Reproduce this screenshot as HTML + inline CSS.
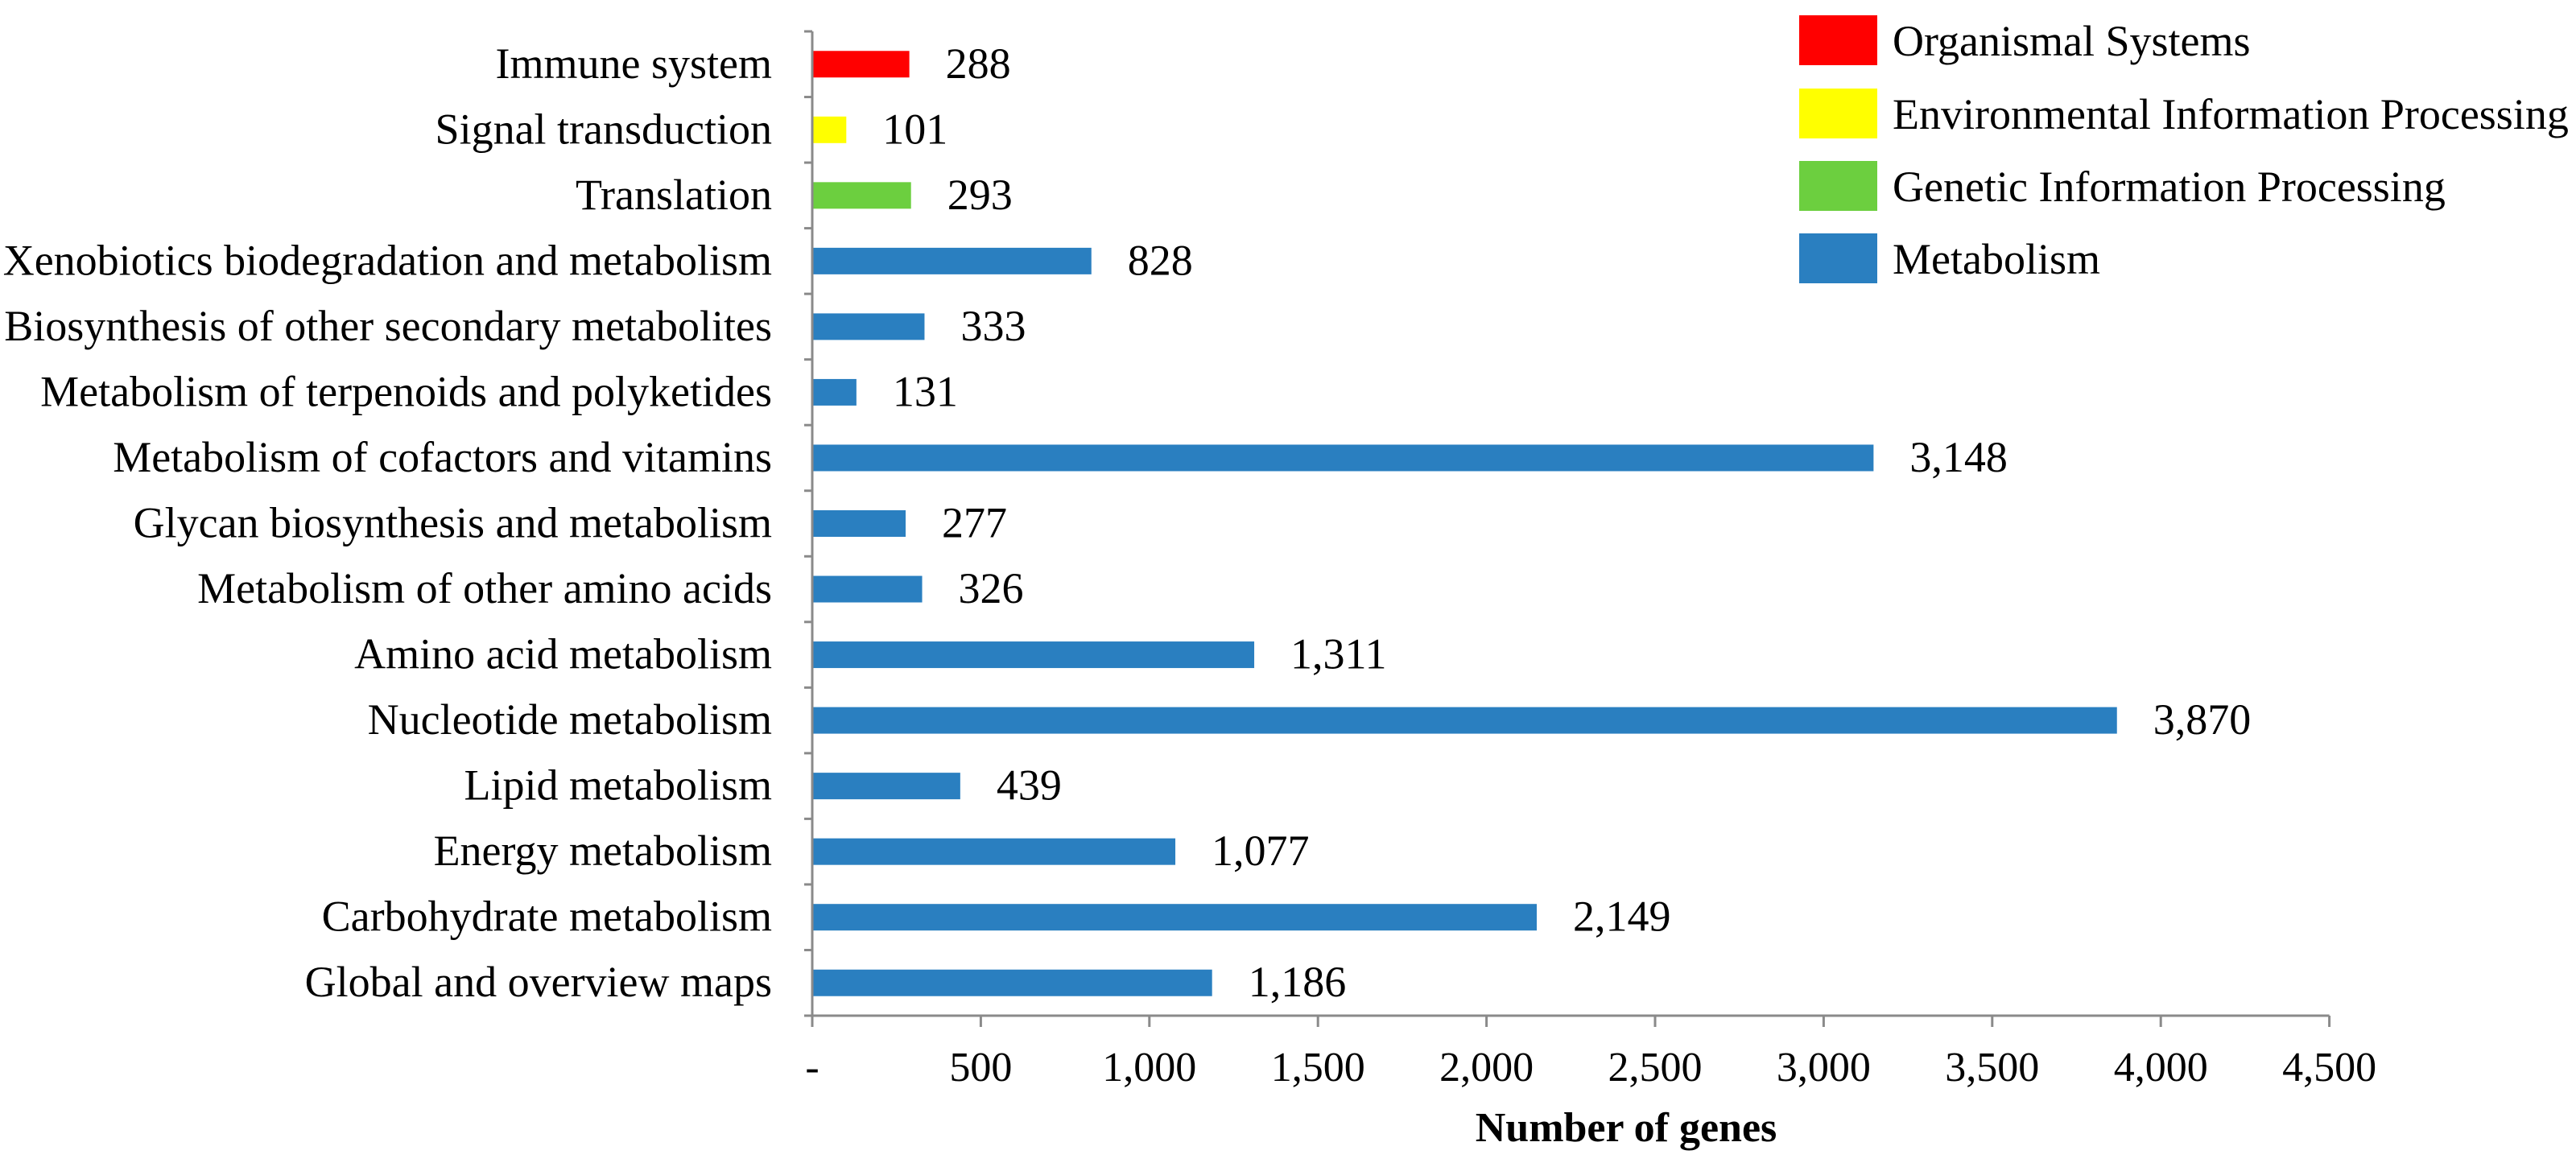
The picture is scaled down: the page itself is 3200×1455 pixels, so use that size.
<!DOCTYPE html>
<html><head><meta charset="utf-8"><style>
html,body{margin:0;padding:0;background:#fff;}
svg{display:block;font-family:"Liberation Serif",serif;}
</style></head><body>
<svg id="chart" width="3200" height="1455" viewBox="0 0 3200 1455" xmlns="http://www.w3.org/2000/svg">
<g id="legend">
  <rect x="2235" y="19" width="97" height="62" fill="#ff0000"/>
  <text x="2351" y="69" font-size="54">Organismal Systems</text>
  <rect x="2235" y="110" width="97" height="62" fill="#ffff00"/>
  <text x="2351" y="160" font-size="54">Environmental Information Processing</text>
  <rect x="2235" y="200" width="97" height="62" fill="#6ccf3f"/>
  <text x="2351" y="250" font-size="54">Genetic Information Processing</text>
  <rect x="2235" y="290" width="97" height="62" fill="#2a7fc0"/>
  <text x="2351" y="340" font-size="54">Metabolism</text>
</g>
<text x="2020" y="1418" font-size="52" font-weight="bold" text-anchor="middle">Number of genes</text>
</svg>
<script>
const categories = ["Immune system","Signal transduction","Translation","Xenobiotics biodegradation and metabolism","Biosynthesis of other secondary metabolites","Metabolism of terpenoids and polyketides","Metabolism of cofactors and vitamins","Glycan biosynthesis and metabolism","Metabolism of other amino acids","Amino acid metabolism","Nucleotide metabolism","Lipid metabolism","Energy metabolism","Carbohydrate metabolism","Global and overview maps"];
const values = [288,101,293,828,333,131,3148,277,326,1311,3870,439,1077,2149,1186];
const groups = ["Organismal Systems","Environmental Information Processing","Genetic Information Processing","Metabolism","Metabolism","Metabolism","Metabolism","Metabolism","Metabolism","Metabolism","Metabolism","Metabolism","Metabolism","Metabolism","Metabolism"];
const groupColors = {"Organismal Systems":"#ff0000","Environmental Information Processing":"#ffff00","Genetic Information Processing":"#6ccf3f","Metabolism":"#2a7fc0"};
const xTicks = [0,500,1000,1500,2000,2500,3000,3500,4000,4500];
const xTickLabels = ["-","500","1,000","1,500","2,000","2,500","3,000","3,500","4,000","4,500"];

const NS="http://www.w3.org/2000/svg";
const svg=document.getElementById('chart');
const X0=1009, PX_PER=209.4/500, TOP=39, BOTTOM=1262;
const band=(BOTTOM-TOP)/categories.length;
const xs=v=>X0+v*PX_PER;
const yc=i=>TOP+band*(i+0.5);
function mk(tag,attrs){const e=document.createElementNS(NS,tag);for(const k in attrs)e.setAttribute(k,attrs[k]);svg.appendChild(e);return e;}
const fmt=v=>v.toLocaleString('en-US');

categories.forEach((c,i)=>{
  const r=mk('rect',{x:xs(0),y:yc(i)-16.5,width:xs(values[i])-xs(0),height:33,fill:groupColors[groups[i]]});
  
  
  const l=mk('text',{x:959,y:yc(i)+17,'font-size':54,'text-anchor':'end'});
  l.textContent=c;
  
  
  const v=mk('text',{x:xs(values[i])+45,y:yc(i)+17,'font-size':54});
  v.textContent=fmt(values[i]);
  
  
});
for(let i=0;i<=categories.length;i++){
  const t=mk('line',{x1:X0-10,x2:X0,y1:TOP+band*i,y2:TOP+band*i,stroke:'#8a8a8a','stroke-width':3});
  
  
}
const ya=mk('line',{x1:X0,x2:X0,y1:TOP,y2:BOTTOM,stroke:'#8a8a8a','stroke-width':3});


const xa=mk('line',{x1:X0-10,x2:xs(4500),y1:BOTTOM,y2:BOTTOM,stroke:'#8a8a8a','stroke-width':3});


xTicks.forEach((t,i)=>{
  const tk=mk('line',{x1:xs(t),x2:xs(t),y1:BOTTOM,y2:BOTTOM+14,stroke:'#8a8a8a','stroke-width':3});
  
  
  const tl=mk('text',{x:xs(t),y:1343,'font-size':52,'text-anchor':'middle'});
  tl.textContent=xTickLabels[i];
  
  
});
</script>
</body></html>
